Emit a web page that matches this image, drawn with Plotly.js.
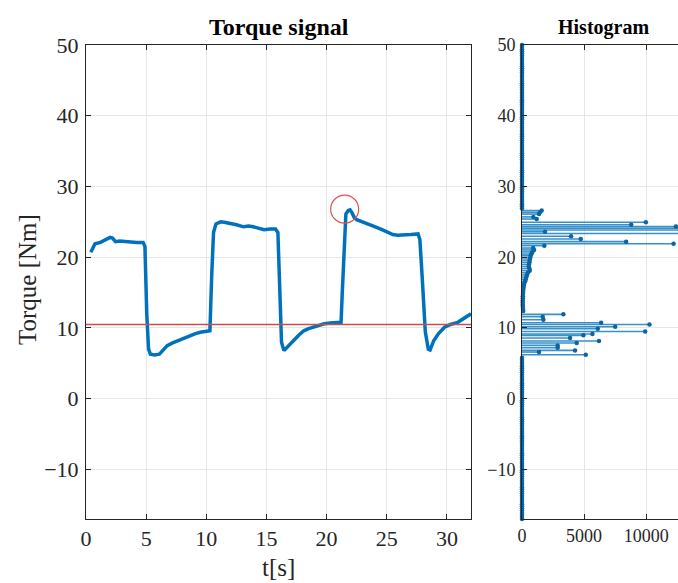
<!DOCTYPE html>
<html>
<head>
<meta charset="utf-8">
<script src="https://cdn.plot.ly/plotly-3.0.1.min.js"></script>
<style>
html, body { margin: 0; padding: 0; overflow: hidden; background: #fff; }
#chart { width: 700px; height: 583px; }
</style>
</head>
<body>
<div id="chart"></div>
<script>
// ---- Torque signal (time series) ----
const timeS = [0.4, 0.75, 1.2, 1.6, 2.0, 2.2, 2.45, 2.8, 3.3, 3.7, 4.2, 4.75, 4.9, 5.05, 5.2, 5.35, 5.7, 6.1, 6.4, 6.75,
  7.2, 7.6, 8.1, 8.7, 9.1, 9.5, 10.0, 10.3, 10.45, 10.6, 10.8, 11.2, 11.6, 12.0, 12.5, 13.1, 13.5, 13.9, 14.3, 14.8,
  15.3, 15.75, 15.95, 16.1, 16.25, 16.45, 16.7, 17.0, 17.3, 17.7, 18.1, 18.5, 18.9, 19.3, 19.8, 20.3, 20.8, 21.2, 21.3, 21.45,
  21.6, 21.8, 21.95, 22.1, 22.3, 22.5, 23.0, 23.4, 23.8, 24.2, 24.6, 25.06, 25.5, 25.9, 26.4, 27.0, 27.6, 27.75, 27.95, 28.2,
  28.45, 28.6, 28.9, 29.3, 29.8, 30.3, 30.9, 31.4, 31.8, 32.0];
const torqueNm = [20.7, 21.9, 22.1, 22.4, 22.8, 22.7, 22.2, 22.3, 22.2, 22.1, 22.1, 22.1, 21.5, 12.0, 7.0, 6.3, 6.2, 6.3, 6.9, 7.5,
  7.9, 8.2, 8.5, 8.9, 9.2, 9.4, 9.5, 9.6, 17.5, 23.5, 24.7, 25.0, 24.9, 24.8, 24.6, 24.3, 24.4, 24.3, 24.1, 23.9,
  24.0, 24.0, 23.5, 15.0, 8.0, 6.8, 7.2, 7.8, 8.3, 9.0, 9.6, 9.9, 10.1, 10.3, 10.6, 10.7, 10.8, 10.8, 15.0, 22.0,
  26.1, 26.6, 26.7, 26.3, 25.6, 25.3, 25.0, 24.7, 24.5, 24.2, 23.9, 23.5, 23.2, 23.1, 23.2, 23.2, 23.3, 22.5, 17.0, 9.5,
  7.0, 6.9, 8.2, 9.2, 10.1, 10.5, 10.8, 11.3, 11.8, 12.0];
const thresholdNm = 10.5;
const highlightT = 21.5, highlightNm = 26.8;

// ---- Histogram (occupied bins) ----
const histTorque = [26.6, 26.35, 26.1, 25.7, 25.4, 24.94, 24.6, 24.33, 24.1, 23.85, 23.6, 23.35, 22.96, 22.58, 22.2, 21.9, 21.64, 21.3,
  21.03, 20.75, 20.45, 20.2, 19.9, 19.6, 19.3, 19.0, 18.7, 18.4, 18.1, 17.8, 17.5, 17.2, 16.9, 16.6, 16.3, 16.0,
  15.7, 15.4, 15.1, 14.8, 14.5, 14.2, 13.9, 13.6, 13.3, 13.0, 12.7, 12.4,
  11.93, 11.6, 11.17, 10.75, 10.5, 10.18, 9.9, 9.5, 9.15, 8.96, 8.58, 8.16, 7.88, 7.54, 7.2, 6.83, 6.6, 6.22];
const histCount = [1585, 1450, 1370, 914, 1182, 9970, 8790, 12390, 14000, 14000, 1854, 14000, 3950, 4730, 8380, 12200, 1800, 900,
  970, 830, 760, 700, 660, 620, 600, 560, 540, 600, 620, 470, 400, 350, 300, 250, 180, 150,
  120, 100, 90, 80, 70, 70, 60, 60, 60, 70, 80, 100,
  3330, 1670, 1720, 6370, 10260, 7500, 6100, 9915, 5670, 4940, 3870, 6200, 4400, 2870, 2870, 4270, 1370, 5130];
// empty bins (count 0) fill the rest of the torque range
const emptyRanges = [[-17, 5.9], [26.9, 50]];
const emptyStep = 0.3;

const xTicks1 = [0, 5, 10, 15, 20, 25, 30];
const yTicks = [-10, 0, 10, 20, 30, 40, 50];
const xTicks2 = [0, 5000, 10000];

// ---- build ----
const W = 700, H = 583;
const BLUE = '#0072BD';
const STEM = '#3a90c8';
const AX = '#262626';
const GRID = '#e6e6e6';
const FONT = '"Liberation Serif", "Times New Roman", serif';

let binY = histTorque.slice(), binC = histCount.slice();
emptyRanges.forEach(([a, b]) => {
  for (let v = a; v <= b + 1e-9; v += emptyStep) { binY.push(v); binC.push(0); }
});
const stemX = [], stemY = [];
binY.forEach((y, i) => { stemX.push(0, binC[i], null); stemY.push(y, y, null); });

const traces = [
  { x: timeS, y: torqueNm, mode: 'lines', line: { color: BLUE, width: 3.5 }, xaxis: 'x', yaxis: 'y', hoverinfo: 'skip' },
  { x: [highlightT], y: [highlightNm], mode: 'markers', xaxis: 'x', yaxis: 'y',
    marker: { symbol: 'circle-open', size: 28, color: '#d9534f', line: { width: 1.2, color: '#d9534f' } } },
  { x: stemX, y: stemY, mode: 'lines', line: { color: STEM, width: 1.6 }, xaxis: 'x2', yaxis: 'y2' },
  { x: binC, y: binY, mode: 'markers', marker: { color: '#0b65a5', size: 4.5 }, cliponaxis: false, xaxis: 'x2', yaxis: 'y2' }
];

const yDom = [(H - 519) / H, (H - 45) / H];
const common = {
  showgrid: true, gridcolor: GRID, gridwidth: 1, zeroline: false,
  showline: true, linecolor: AX, linewidth: 1, mirror: 'ticks',
  ticks: 'inside', ticklen: 5, tickcolor: AX, tickwidth: 1
};

const layout = {
  width: W, height: H,
  margin: { l: 0, r: 0, t: 0, b: 0 },
  paper_bgcolor: '#fff', plot_bgcolor: '#fff',
  showlegend: false,
  font: { family: FONT, color: '#000' },
  xaxis: Object.assign({}, common, { domain: [86 / W, 471 / W], range: [0, 32], tickvals: xTicks1,
    anchor: 'y', tickfont: { family: FONT, size: 22, color: AX } }),
  yaxis: Object.assign({}, common, { domain: yDom, range: [-17, 50], tickvals: yTicks,
    anchor: 'x', tickfont: { family: FONT, size: 22, color: AX }, ticklabelstandoff: 2 }),
  xaxis2: Object.assign({}, common, { domain: [522 / W, 686 / W], range: [0, 13200], tickvals: xTicks2,
    tickformat: 'd', anchor: 'y2', tickfont: { family: FONT, size: 18, color: AX } }),
  yaxis2: Object.assign({}, common, { domain: yDom, range: [-17, 50], tickvals: yTicks,
    anchor: 'x2', tickfont: { family: FONT, size: 18, color: AX }, ticklabelstandoff: 2 }),
  shapes: [
    { type: 'line', xref: 'x domain', x0: 0, x1: 1, yref: 'y', y0: thresholdNm, y1: thresholdNm,
      line: { color: '#cc4c4c', width: 1.5 }, layer: 'above' }
  ],
  annotations: [
    { text: '<b>Torque signal</b>', xref: 'paper', yref: 'paper', x: 279 / W, y: 1 - 27 / H,
      xanchor: 'center', yanchor: 'middle', showarrow: false, font: { family: FONT, size: 24, color: '#000' } },
    { text: '<b>Histogram</b>', xref: 'paper', yref: 'paper', x: 603 / W, y: 1 - 28 / H,
      xanchor: 'center', yanchor: 'middle', showarrow: false, font: { family: FONT, size: 20, color: '#000' } },
    { text: 't[s]', xref: 'paper', yref: 'paper', x: 278 / W, y: 1 - 567 / H,
      xanchor: 'center', yanchor: 'middle', showarrow: false, font: { family: FONT, size: 25, color: AX } },
    { text: 'Torque [Nm]', xref: 'paper', yref: 'paper', x: 28 / W, y: 1 - 280 / H, textangle: -90,
      xanchor: 'center', yanchor: 'middle', showarrow: false, font: { family: FONT, size: 25, color: AX } }
  ]
};

Plotly.newPlot('chart', traces, layout, { displayModeBar: false, staticPlot: true });
</script>
</body>
</html>
